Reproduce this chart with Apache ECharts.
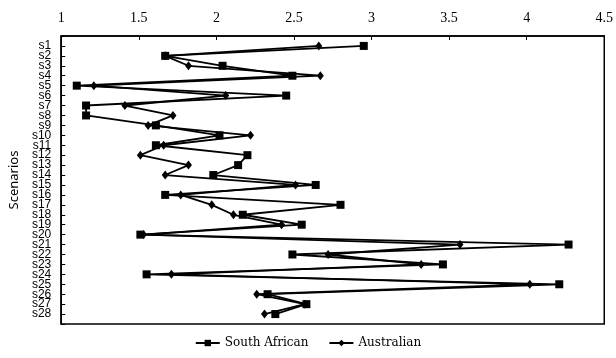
<!DOCTYPE html>
<html>
<head>
<meta charset="utf-8">
<script src="https://cdn.jsdelivr.net/npm/echarts@6/dist/echarts.min.js"></script>
<style>html,body{margin:0;padding:0;background:#fff}#c{width:616px;height:358px}</style>
</head>
<body>
<div id="c"></div>
<script>
var categories = ['s1','s2','s3','s4','s5','s6','s7','s8','s9','s10','s11','s12','s13','s14','s15','s16','s17','s18','s19','s20','s21','s22','s23','s24','s25','s26','s27','s28'];
var southAfrican = [2.95,1.67,2.04,2.49,1.10,2.45,1.16,1.16,1.61,2.02,1.61,2.20,2.14,1.98,2.64,1.67,2.80,2.17,2.55,1.51,4.27,2.49,3.46,1.55,4.21,2.33,2.58,2.38];
var australian = [2.66,1.67,1.82,2.67,1.21,2.06,1.41,1.72,1.56,2.22,1.66,1.51,1.82,1.67,2.51,1.77,1.97,2.11,2.42,1.53,3.57,2.72,3.32,1.71,4.02,2.26,2.57,2.31];
var xTicks = [1, 1.5, 2, 2.5, 3, 3.5, 4, 4.5];

var yData = [''].concat(categories, ['']);
function pairs(vals){ return vals.map(function(v,i){ return [v, categories[i]]; }); }

var chart = echarts.init(document.getElementById('c'), null, {renderer:'canvas'});
chart.setOption({
  animation: false,
  backgroundColor: '#fff',
  grid: {left: 55.5, right: 8, top: 36, bottom: 34, show: true, borderColor: '#000', borderWidth: 1.5, backgroundColor: 'transparent'},
  legend: {
    bottom: 4, left: 'center', itemWidth: 24, itemHeight: 8, itemGap: 20,
    textStyle: {fontFamily: 'DejaVu Serif', fontSize: 12, color: '#000'},
    data: ['South African', 'Australian']
  },
  xAxis: {
    type: 'value', position: 'top', min: xTicks[0], max: xTicks[xTicks.length-1], interval: 0.5,
    axisLine: {show: true, lineStyle: {color: '#000', width: 1.5}},
    axisTick: {show: true, inside: true, length: 4, lineStyle: {color: '#000'}},
    axisLabel: {margin: 11, color: '#000', fontFamily: 'Liberation Serif', fontSize: 14,
      formatter: function(v){ return xTicks.indexOf(v) >= 0 ? String(v) : ''; }},
    splitLine: {show: false}
  },
  yAxis: {
    type: 'category', data: yData, boundaryGap: false, inverse: true,
    name: 'Scenarios', nameLocation: 'middle', nameGap: 40, nameRotate: 90,
    nameTextStyle: {fontFamily: 'Noto Sans', fontSize: 13, color: '#000'},
    axisLine: {show: true, lineStyle: {color: '#000', width: 1.5}},
    axisTick: {show: true, inside: true, length: 4, interval: 0, lineStyle: {color: '#000'}},
    axisLabel: {interval: 0, margin: 10, color: '#000', fontFamily: 'Liberation Sans', fontSize: 12, hideOverlap: false},
    splitLine: {show: false}
  },
  series: [
    {name: 'South African', type: 'line', data: pairs(southAfrican), symbol: 'rect', symbolSize: 8,
     lineStyle: {color: '#000', width: 1.8}, itemStyle: {color: '#000'}, color: '#000'},
    {name: 'Australian', type: 'line', data: pairs(australian), symbol: 'diamond', symbolSize: [7, 9],
     lineStyle: {color: '#000', width: 1.8}, itemStyle: {color: '#000'}, color: '#000'}
  ]
});
</script>
</body>
</html>
